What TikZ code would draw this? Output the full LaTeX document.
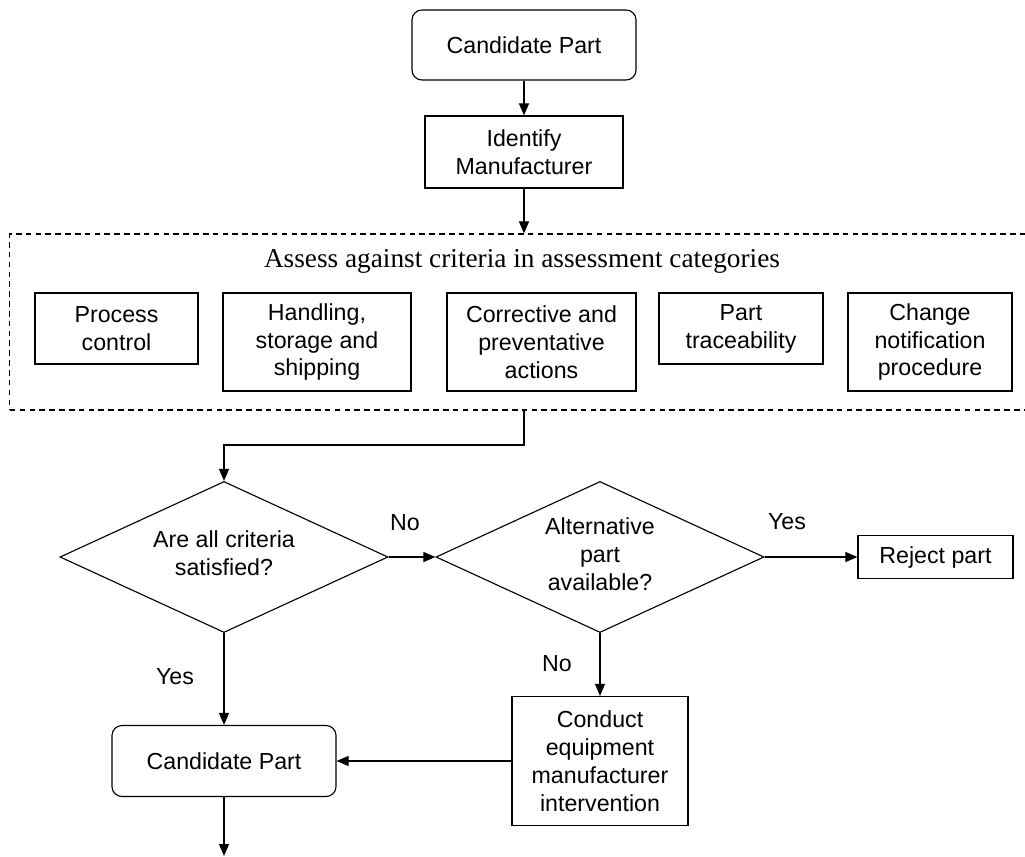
\documentclass[tikz,border=0pt]{standalone}
\usepackage{fontspec}
\setmainfont{Liberation Sans}
\newfontfamily\titlefont{Liberation Serif}
\usetikzlibrary{arrows.meta,shapes.geometric}
\begin{document}
\begin{tikzpicture}[x=0.025cm, y=-0.025cm, line width=0.8pt,
  every node/.style={font=\fontsize{16.5}{19.9}\selectfont, align=center},
  box/.style={draw, rectangle, inner sep=0pt},
  rbox/.style={draw, rectangle, rounded corners=0.25cm, inner sep=0pt},
  decision/.style={draw, diamond, aspect=2.2, inner sep=0pt, minimum width=8.2cm, minimum height=3.775cm},
  arr/.style={-{Triangle[length=0.3cm,width=0.25cm]}}]
\useasboundingbox (0,0) rectangle (1025,856);
% top of the chart
\node[rbox, minimum width=5.6cm, minimum height=1.75cm] (cand0) at (524,45){Candidate Part};
\node[box, minimum width=4.95cm, minimum height=1.8cm] (ident) at (524,152){Identify\\Manufacturer};
\draw[arr](cand0) -- (ident);
% assessment categories
\node[box, dash pattern=on 4pt off 3pt, minimum width=25.5cm, minimum height=4.4cm] (assess) at (520,322){};
\node[font=\titlefont\fontsize{19.4}{22}\selectfont] (asstitle) at (522,261){Assess against criteria in assessment categories};
\node[box, minimum width=4.075cm, minimum height=1.775cm] (cat1) at (116.5,328.5){Process\\control};
\node[box, minimum width=4.7cm, minimum height=2.45cm] (cat2) at (317,342){Handling,\\storage and\\shipping};
\node[box, minimum width=4.725cm, minimum height=2.45cm] (cat3) at (541.5,342){Corrective and\\preventative\\actions};
\node[box, minimum width=4.1cm, minimum height=1.775cm] (cat4) at (741,328.5){Part\\traceability};
\node[box, minimum width=4.1cm, minimum height=2.45cm] (cat5) at (930,342){Change\\notification\\procedure};
\draw[arr](ident) -- (ident |- assess.north);
% decisions
\node[decision] (dec0) at (224,557){Are all criteria\\satisfied?\\[-0.48cm]};
\node[decision] (dec1) at (600,557){Alternative\\part\\available?\\[-0.55cm]};
\node[box, minimum width=3.875cm, minimum height=1.075cm] (rej) at (935.5,557){Reject part};
\node[box, minimum width=4.4cm, minimum height=3.225cm] (conduct) at (600,761){Conduct\\equipment\\manufacturer\\intervention};
\node[rbox, minimum width=5.6cm, minimum height=1.775cm] (cand1) at (224,761){Candidate Part};
\coordinate (bend) at (524,445);
\coordinate (outend) at (224,856);
\draw[arr](assess.south -| ident) -- (bend) -| (dec0.north);
\draw[arr](dec0.east) -- (dec1.west);
\draw[arr](dec1.east) -- (rej.west);
\draw[arr](dec1.south) -- (conduct.north);
\draw[arr](dec0.south) -- (cand1.north);
\draw[arr](conduct.west) -- (cand1.east);
\draw[arr](cand1.south) -- (outend);
% branch labels
\node (lno0) at (405,523){No};
\node (lyes1) at (787,522){Yes};
\node (lno1) at (557,664){No};
\node (lyes0) at (175,677){Yes};
\end{tikzpicture}
\end{document}
